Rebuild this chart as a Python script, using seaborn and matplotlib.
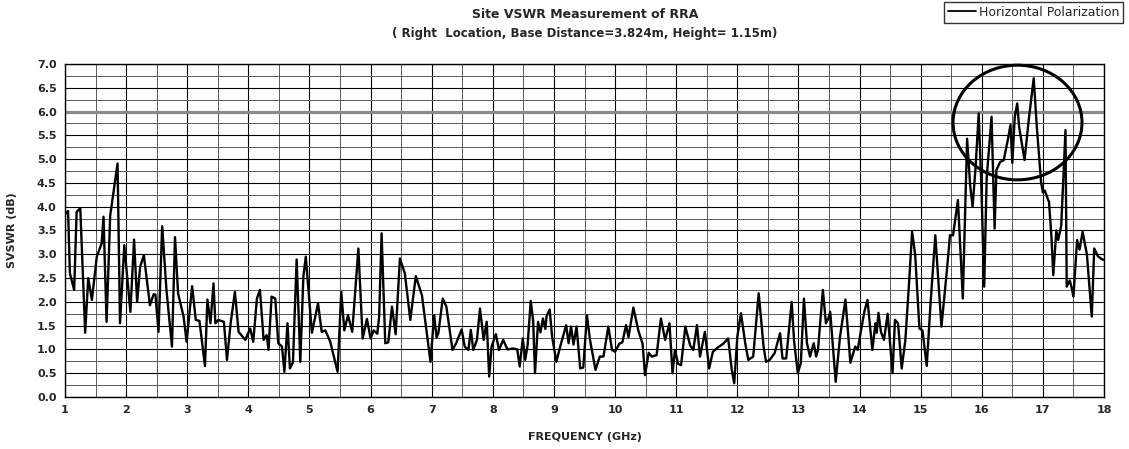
import matplotlib
matplotlib.use("Agg")
import matplotlib.pyplot as plt
from matplotlib.patches import Ellipse
from matplotlib.ticker import MultipleLocator
import seaborn as sns
import pandas as pd

# ---- data ----
freq_ghz = [1.00, 1.02, 1.05, 1.08, 1.15, 1.19, 1.25, 1.33, 1.38, 1.44, 1.52, 1.60, 1.63, 1.68, 1.74,
            1.86, 1.90, 1.97, 2.07, 2.13, 2.18, 2.23, 2.29, 2.39, 2.45, 2.48, 2.53, 2.59, 2.66, 2.75,
            2.80, 2.85, 2.94, 2.99, 3.08, 3.14, 3.20, 3.29, 3.33, 3.38, 3.43, 3.46, 3.51, 3.60, 3.65,
            3.71, 3.78, 3.84, 3.95, 4.03, 4.08, 4.14, 4.19, 4.25, 4.30, 4.33, 4.38, 4.44, 4.49, 4.55,
            4.59, 4.64, 4.68, 4.73, 4.79, 4.85, 4.90, 4.94, 5.04, 5.14, 5.20, 5.26, 5.34, 5.46, 5.52,
            5.57, 5.63, 5.70, 5.80, 5.87, 5.94, 6.00, 6.05, 6.11, 6.14, 6.18, 6.24, 6.29, 6.35, 6.41,
            6.48, 6.56, 6.65, 6.74, 6.84, 6.98, 7.04, 7.08, 7.11, 7.18, 7.24, 7.34, 7.40, 7.49, 7.54,
            7.60, 7.64, 7.68, 7.74, 7.79, 7.85, 7.90, 7.94, 7.98, 8.05, 8.10, 8.17, 8.24, 8.33, 8.40,
            8.44, 8.49, 8.53, 8.57, 8.62, 8.66, 8.69, 8.74, 8.78, 8.82, 8.86, 8.88, 8.93, 8.97, 9.04,
            9.10, 9.20, 9.24, 9.28, 9.32, 9.37, 9.43, 9.48, 9.54, 9.59, 9.68, 9.75, 9.81, 9.89, 9.95,
            10.00, 10.07, 10.12, 10.18, 10.22, 10.30, 10.38, 10.45, 10.49, 10.55, 10.60, 10.68, 10.75,
            10.82, 10.89, 10.94, 10.98, 11.03, 11.08, 11.15, 11.23, 11.28, 11.34, 11.39, 11.47, 11.54,
            11.60, 11.69, 11.77, 11.85, 11.91, 11.95, 12.00, 12.06, 12.13, 12.18, 12.26, 12.35, 12.43,
            12.47, 12.53, 12.61, 12.70, 12.74, 12.80, 12.89, 12.93, 12.99, 13.04, 13.09, 13.14, 13.19,
            13.25, 13.29, 13.32, 13.40, 13.45, 13.49, 13.52, 13.59, 13.61, 13.68, 13.77, 13.85, 13.93,
            13.97, 14.02, 14.08, 14.13, 14.21, 14.26, 14.28, 14.31, 14.35, 14.40, 14.46, 14.54, 14.58,
            14.63, 14.69, 14.75, 14.81, 14.86, 14.91, 14.98, 15.03, 15.10, 15.16, 15.24, 15.34, 15.43,
            15.48, 15.53, 15.61, 15.69, 15.76, 15.81, 15.85, 15.90, 15.95, 15.99, 16.04, 16.08, 16.16,
            16.21, 16.24, 16.30, 16.36, 16.43, 16.47, 16.50, 16.54, 16.58, 16.61, 16.70, 16.77, 16.85,
            16.90, 16.97, 17.00, 17.03, 17.10, 17.14, 17.17, 17.22, 17.25, 17.30, 17.37, 17.39, 17.44,
            17.47, 17.50, 17.56, 17.60, 17.65, 17.72, 17.80, 17.84, 17.90, 17.96, 18.00]

svswr_db = [3.85, 3.86, 3.91, 2.60, 2.25, 3.89, 3.97, 1.35, 2.50, 2.04, 2.95, 3.23, 3.79, 1.58, 3.82,
            4.91, 1.55, 3.19, 1.79, 3.31, 2.00, 2.74, 2.98, 1.93, 2.16, 2.15, 1.37, 3.59, 2.25, 1.06,
            3.36, 2.18, 1.69, 1.16, 2.33, 1.62, 1.60, 0.65, 2.05, 1.55, 2.39, 1.55, 1.62, 1.58, 0.78,
            1.55, 2.21, 1.37, 1.20, 1.44, 1.16, 2.07, 2.25, 1.20, 1.30, 0.99, 2.11, 2.07, 1.13, 1.06,
            0.53, 1.55, 0.60, 0.73, 2.89, 0.74, 2.53, 2.95, 1.35, 1.97, 1.37, 1.40, 1.16, 0.53, 2.21,
            1.40, 1.72, 1.37, 3.12, 1.23, 1.64, 1.23, 1.40, 1.33, 1.69, 3.44, 1.13, 1.15, 1.90, 1.32,
            2.91, 2.60, 1.62, 2.54, 2.14, 0.74, 1.72, 1.25, 1.35, 2.07, 1.90, 0.99, 1.13, 1.42, 1.06,
            0.99, 1.41, 0.99, 1.20, 1.86, 1.20, 1.58, 0.43, 1.06, 1.32, 0.99, 1.20, 1.00, 1.02, 1.00,
            0.64, 1.23, 0.78, 1.10, 2.02, 1.60, 0.50, 1.58, 1.36, 1.65, 1.43, 1.70, 1.84, 1.27, 0.74,
            1.05, 1.51, 1.13, 1.48, 1.10, 1.48, 0.60, 0.62, 1.72, 1.20, 0.57, 0.85, 0.85, 1.48, 0.99,
            0.95, 1.12, 1.15, 1.51, 1.26, 1.88, 1.40, 1.12, 0.46, 0.93, 0.85, 0.88, 1.65,
            1.20, 1.55, 0.50, 0.99, 0.70, 0.67, 1.48, 1.08, 0.99, 1.51, 0.85, 1.37, 0.60,
            0.95, 1.05, 1.12, 1.23, 0.57, 0.29, 1.26, 1.76, 1.13, 0.78, 0.85, 2.18, 1.06,
            0.74, 0.78, 0.92, 1.34, 0.81, 0.81, 2.00, 1.16, 0.50, 0.72, 2.07, 1.13, 0.85,
            1.13, 0.85, 0.99, 2.25, 1.55, 1.65, 1.79, 0.64, 0.32, 1.26, 2.05, 0.72, 1.06,
            0.99, 1.37, 1.80, 2.04, 0.99, 1.55, 1.35, 1.77, 1.37, 1.20, 1.75, 0.50, 1.62,
            1.55, 0.60, 1.20, 2.39, 3.47, 3.00, 1.44, 1.40, 0.65, 1.93, 3.40, 1.48, 2.67,
            3.40, 3.40, 4.14, 2.07, 5.43, 4.45, 4.00, 4.85, 5.96, 4.56, 2.32, 4.60, 5.89,
            3.54, 4.77, 4.94, 4.98, 5.43, 5.72, 4.92, 5.89, 6.17, 5.69, 4.98, 5.84, 6.70,
            5.69, 4.52, 4.30, 4.34, 4.10, 3.37, 2.56, 3.50, 3.30, 3.60, 5.61, 2.32, 2.45,
            2.30, 2.11, 3.30, 3.10, 3.47, 3.00, 1.69, 3.12, 2.96, 2.90, 2.88]

x_ticks = list(range(1, 19))
y_ticks = [0.0, 0.5, 1.0, 1.5, 2.0, 2.5, 3.0, 3.5, 4.0, 4.5, 5.0, 5.5, 6.0, 6.5, 7.0]
limit_db = 6.0
series_name = "Horizontal Polarization"
title = "Site VSWR Measurement of RRA"
subtitle = "( Right  Location, Base Distance=3.824m, Height= 1.15m)"

df = pd.DataFrame({"freq": freq_ghz, "val": svswr_db, "series": series_name})

sns.set_style("white")
plt.rcParams["font.family"] = ["DejaVu Sans"]

fig = plt.figure(figsize=(11.29, 4.49), dpi=100)
ax = fig.add_axes([65 / 1129, 1 - 397 / 449, (1104 - 65) / 1129, (397 - 64) / 449])

ax.set_xlim(1, 18)
ax.set_ylim(0, 7)
ax.set_xticks(x_ticks)
ax.set_yticks(y_ticks)
ax.xaxis.set_minor_locator(MultipleLocator(0.5))
ax.yaxis.set_minor_locator(MultipleLocator(0.25))
ax.grid(which="major", color="black", lw=0.8)
ax.grid(which="minor", color="#5a5a5a", lw=0.7)
ax.set_axisbelow(True)
ax.tick_params(which="both", length=0, pad=6)
ax.set_xticklabels([str(t) for t in x_ticks], fontsize=8, fontweight="bold")
ax.set_yticklabels([f"{t:.1f}" for t in y_ticks], fontsize=8, fontweight="bold")
for s in ax.spines.values():
    s.set_color("black")
    s.set_linewidth(1.0)

ax.axhline(limit_db, color="#8a8a8a", lw=2.3, zorder=2)

sns.lineplot(data=df, x="freq", y="val", hue="series", palette=["black"],
             lw=1.7, ax=ax, zorder=3, legend=True, estimator=None, sort=False)

ax.add_patch(Ellipse((16.585, 5.77), width=2.11, height=2.41, fill=False,
                     edgecolor="black", lw=2.2, zorder=4, clip_on=False))

ax.set_xlabel("FREQUENCY (GHz)", fontsize=8, fontweight="bold", labelpad=12)
ax.set_ylabel("SVSWR (dB)", fontsize=8, fontweight="bold", labelpad=14)

fig.text(0.518, 1 - 15 / 449, title, ha="center", va="center", fontsize=9, fontweight="bold")
fig.text(0.518, 1 - 33 / 449, subtitle, ha="center", va="center", fontsize=8.5, fontweight="bold")

leg = ax.legend(loc="upper right", bbox_to_anchor=(1123 / 1129, 1 - 2 / 449),
                bbox_transform=fig.transFigure, frameon=True, fancybox=False,
                fontsize=9, handlelength=2.3, borderpad=0.3, handletextpad=0.2,
                borderaxespad=0)
leg.get_frame().set_edgecolor("black")
leg.get_frame().set_linewidth(1.0)
for h in leg.get_lines():
    h.set_linewidth(1.3)

fig.savefig("out.png", dpi=100)
